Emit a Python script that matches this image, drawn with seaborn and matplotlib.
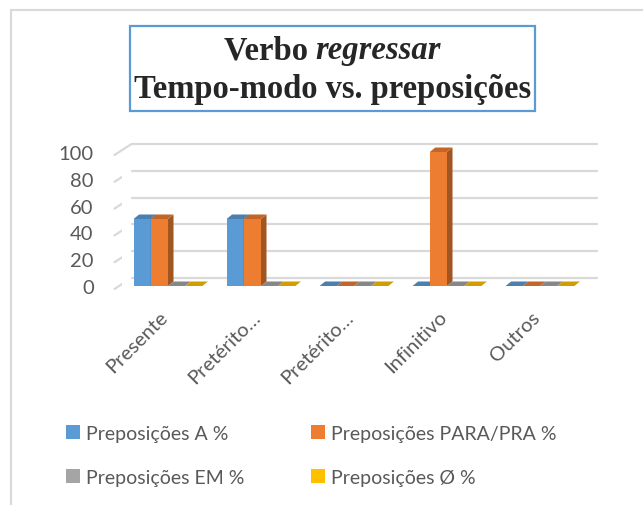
import numpy as np
import pandas as pd
import matplotlib
matplotlib.use("Agg")
import matplotlib.pyplot as plt
import matplotlib.transforms as mtransforms
from matplotlib.patches import Polygon, Rectangle
from matplotlib.lines import Line2D
import seaborn as sns

# dados
tempos = ["Presente", "Pretérito perfeito", "Pretérito imperfeito", "Infinitivo", "Outros"]
rotulos = ["Presente", "Pretérito…", "Pretérito…", "Infinitivo", "Outros"]
series = ["Preposições A %", "Preposições PARA/PRA %", "Preposições EM %", "Preposições Ø %"]
prep_a = [50, 50, 0, 0, 0]
prep_para = [50, 50, 0, 100, 0]
prep_em = [0, 0, 0, 0, 0]
prep_zero = [0, 0, 0, 0, 0]
yticks = [0, 20, 40, 60, 80, 100]

cores = ["#5B9BD5", "#ED7D31", "#A5A5A5", "#FFC000"]

df = pd.DataFrame({
    "tempo": tempos * 4,
    "prep": [s for s in series for _ in tempos],
    "valor": prep_a + prep_para + prep_em + prep_zero,
})

sns.set_theme(style="white")
plt.rcParams["font.family"] = ["Lato", "DejaVu Sans"]

W, H = 643, 506
fig = plt.figure(figsize=(W / 100, H / 100), dpi=100)
ax = fig.add_axes([121.5 / W, (H - 287) / H, 465 / W, 134 / H])

sns.barplot(data=df, x="tempo", y="valor", hue="prep", order=tempos, hue_order=series,
            palette=cores, width=0.74, saturation=1, ax=ax, legend=False)
ax.set_xlim(-0.5, 4.5)
ax.set_ylim(0, 100)
for s in ax.spines.values():
    s.set_visible(False)

# escala em pixels
px_x = 465 / 5.0
px_y = 134 / 100.0

# grade "3D"
back = mtransforms.offset_copy(ax.transData, fig=fig, x=10, y=8, units="dots")
for v in yticks:
    ax.plot([-0.5, 4.5], [v, v], color="#D9D9D9", lw=1.6, transform=back, clip_on=False, zorder=0)
    p1 = ax.transData.transform((-0.5, v)) + np.array([-7, -3])
    p2 = ax.transData.transform((-0.5, v)) + np.array([10, 8])
    fig.add_artist(Line2D([p1[0] / W, p2[0] / W], [p1[1] / H, p2[1] / H], color="#D9D9D9",
                          lw=1.6, transform=fig.transFigure, zorder=0))

# faces laterais e superiores das barras
dx = 5.5 / px_x
dy = 4.5 / px_y
for k, (cont, c) in enumerate(zip(ax.containers, cores)):
    rgb = np.array(matplotlib.colors.to_rgb(c))
    for bar in cont:
        x, w, h = bar.get_x(), bar.get_width(), bar.get_height()
        bar.set_zorder(2 + k * 0.1)
        bar.set_edgecolor("none")
        side = Polygon([(x + w, 0), (x + w, h), (x + w + dx, h + dy), (x + w + dx, dy)],
                       closed=True, fc=rgb * 0.68, ec="none", zorder=2 + k * 0.1, clip_on=False)
        top = Polygon([(x, h), (x + w, h), (x + w + dx, h + dy), (x + dx, h + dy)],
                      closed=True, fc=rgb * 0.82, ec="none", zorder=2 + k * 0.1, clip_on=False)
        ax.add_patch(side)
        ax.add_patch(top)

ax.set_yticks(yticks)
ax.set_yticklabels([str(v) for v in yticks], fontsize=14.5, color="#595959")
ax.set_xticks(range(len(tempos)))
ax.set_xticklabels(rotulos, fontsize=14.5, color="#595959", rotation=45,
                   ha="right", va="center", rotation_mode="anchor")
ax.tick_params(axis="y", length=0, pad=20)
ax.tick_params(axis="x", length=0, pad=20)
ax.set_xlabel("")
ax.set_ylabel("")
for lab in ax.get_xticklabels():
    lab.set_transform(lab.get_transform() + mtransforms.ScaledTranslation(-3 / 100, 0, fig.dpi_scale_trans))

# legenda (ordem por linhas)
handles = [Rectangle((0, 0), 1, 1, fc=c, ec="none") for c in cores]
ordem = [0, 2, 1, 3]
fig.legend([handles[i] for i in ordem], [series[i] for i in ordem], ncol=2,
           loc="upper left", bbox_to_anchor=(58 / W, 1 - 418 / H), frameon=False,
           fontsize=14, labelcolor="#595959", handlelength=0.75, handleheight=0.75,
           handletextpad=0.3, columnspacing=3.4, labelspacing=1.4, borderaxespad=0)

# título em caixa
fig.add_artist(Rectangle((130 / W, 1 - 112 / H), 405 / W, 85 / H, transform=fig.transFigure,
                         fill=False, ec="#5B9BD5", lw=1.6))
serif = ["Liberation Serif", "DejaVu Serif"]
fig.canvas.draw()
r = fig.canvas.get_renderer()
t1 = fig.text(0, 0, "Verbo ", fontsize=23.5, fontweight="bold", family=serif)
t2 = fig.text(0, 0, "regressar", fontsize=23.5, fontweight="bold", fontstyle="italic", family=serif)
w1 = t1.get_window_extent(r).width
w2 = t2.get_window_extent(r).width
x0 = (332.5 - (w1 + w2) / 2)
t1.set_position((x0 / W, 1 - 59 / H))
t2.set_position(((x0 + w1) / W, 1 - 59 / H))
t1.set_va("baseline")
t2.set_va("baseline")
fig.text(332.5 / W, 1 - 98 / H, "Tempo-modo vs. preposições", fontsize=23.5, fontweight="bold",
         family=serif, ha="center", va="baseline")

# borda da área do gráfico
fig.add_artist(Line2D([11 / W, 11 / W], [0, 1 - 11 / H], color="#D9D9D9", lw=1.5, transform=fig.transFigure))
fig.add_artist(Line2D([11 / W, 1], [1 - 11 / H, 1 - 11 / H], color="#D9D9D9", lw=1.5, transform=fig.transFigure))

fig.savefig("out.png", dpi=100)
